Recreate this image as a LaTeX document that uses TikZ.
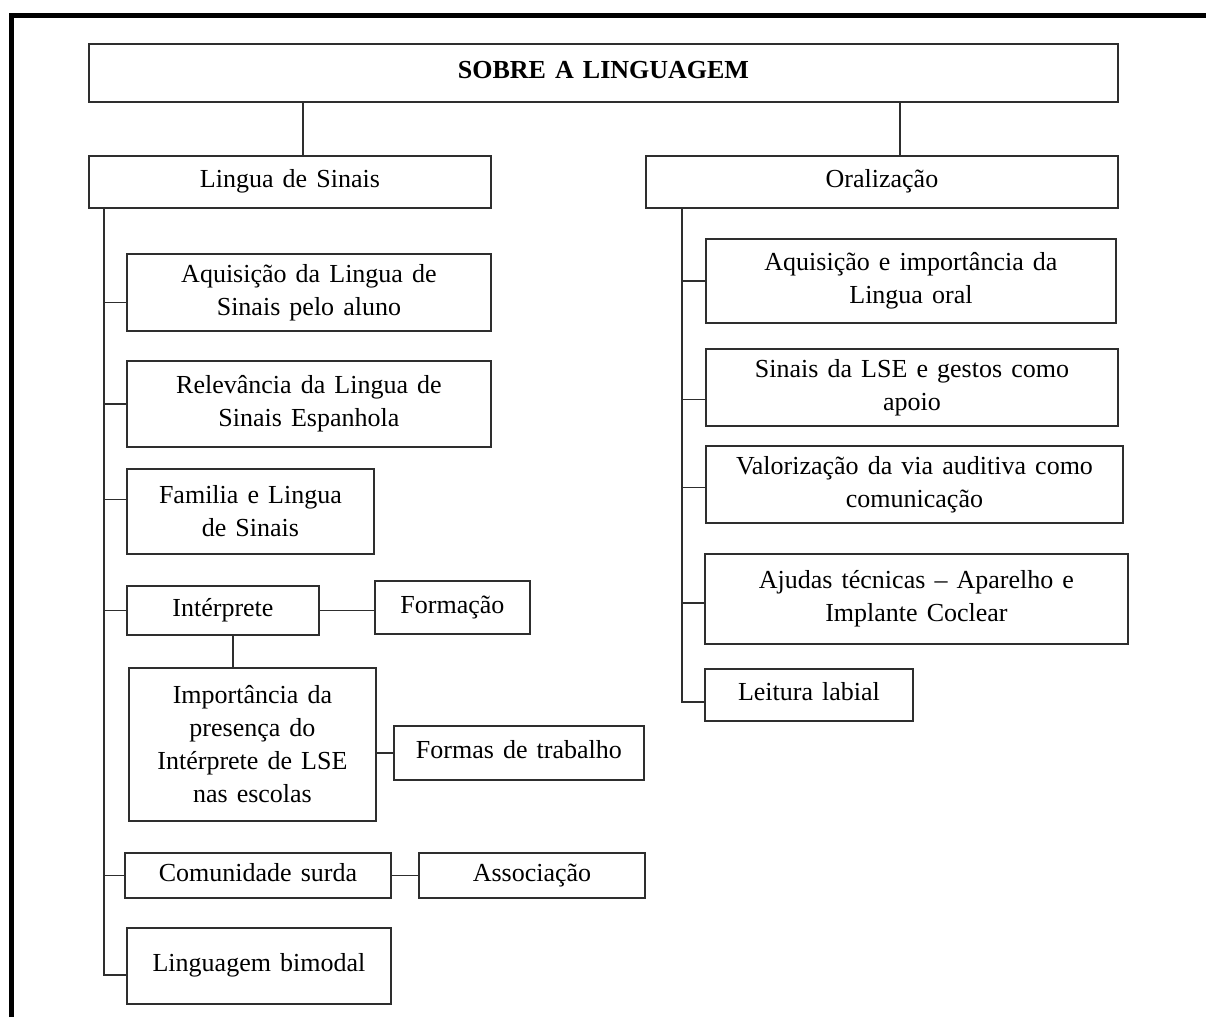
\documentclass[tikz,border=0pt]{standalone}
\usepackage{fontspec}
\setmainfont{Liberation Serif}[WordSpace=1.4]
\begin{document}
\begin{tikzpicture}[x=1pt,y=1pt,
  box/.style={draw=black!82, line width=1.9pt, inner sep=0pt, align=center,
    anchor=north west, font=\fontsize{26}{33}\selectfont},
  one/.style={text height=18pt, text depth=6pt},
  link/.style={draw=black!82, line width=1.9pt},
  frame/.style={draw=black, line width=5pt}]
\useasboundingbox (0,0) rectangle (1206,-1017);

% outer frame (top and left sides)
\draw[frame] (11,-1017) -- (11,-15) -- (1206,-15);

% title and the two main branches
\node[box, one, minimum width=1029pt, minimum height=58pt] (title) at (88,-43) {\textbf{SOBRE A LINGUAGEM}};
\node[box, one, minimum width=402pt, minimum height=52pt] (ls) at (88,-155) {Lingua de Sinais};
\node[box, one, minimum width=472pt, minimum height=52pt] (or) at (645,-155) {Oralização};

\draw[link] (ls.north -| 303,0) -- (title.south -| 303,0);
\draw[link] (or.north -| 900,0) -- (title.south -| 900,0);

% left column
\coordinate (lt) at (104,0);
\node[box, minimum width=364pt, minimum height=77pt] (a1) at (126,-253) {Aquisição da Lingua de\\Sinais pelo aluno};
\node[box, minimum width=364pt, minimum height=86pt] (a2) at (126,-360) {Relevância da Lingua de\\Sinais Espanhola};
\node[box, minimum width=247pt, minimum height=85pt] (a3) at (126,-468) {Familia e Lingua\\de Sinais};
\node[box, one, minimum width=192pt, minimum height=49pt] (a4) at (126,-585) {Intérprete};
\node[box, one, minimum width=155pt, minimum height=53pt] (a4b) at (374,-580) {Formação};
\node[box, minimum width=247pt, minimum height=153pt] (a5) at (128,-667) {Importância da\\presença do\\Intérprete de LSE\\nas escolas};
\node[box, one, minimum width=250pt, minimum height=54pt] (a5b) at (393,-725) {Formas de trabalho};
\node[box, one, minimum width=266pt, minimum height=45pt] (a6) at (124,-852) {Comunidade surda};
\node[box, one, minimum width=226pt, minimum height=45pt] (a6b) at (418,-852) {Associação};
\node[box, one, minimum width=264pt, minimum height=76pt] (a7) at (126,-927) {Linguagem bimodal};

\draw[link] (ls.south -| lt) |- ([yshift=-9pt]a7.west);
\draw[link] ([yshift=-10pt]a1.west) coordinate (c1) -- (c1 -| lt);
\draw[link] (a2.west) -- (a2.west -| lt);
\draw[link] ([yshift=12pt]a3.west) coordinate (c3) -- (c3 -| lt);
\draw[link] (a4.west) -- (a4.west -| lt);
\draw[link] (a6.west) -- (a6.west -| lt);
\draw[link] (a4.east) -- (a4.east -| a4b.west);
\draw[link] (a4.south -| 233,0) -- (a5.north -| 233,0);
\draw[link] (a5b.west -| a5.east) -- (a5b.west);
\draw[link] (a6.east) -- (a6.east -| a6b.west);

% right column
\coordinate (rt) at (682,0);
\node[box, minimum width=410pt, minimum height=84pt] (r1) at (705,-238) {Aquisição e importância da\\Lingua oral};
\node[box, minimum width=412pt, minimum height=77pt] (r2) at (705,-348) {Sinais da LSE e gestos como\\apoio};
\node[box, minimum width=417pt, minimum height=77pt] (r3) at (705,-445) {Valorização da via auditiva como\\comunicação};
\node[box, minimum width=423pt, minimum height=90pt] (r4) at (704,-553) {Ajudas técnicas – Aparelho e\\Implante Coclear};
\node[box, one, minimum width=208pt, minimum height=52pt] (r5) at (704,-668) {Leitura labial};

\draw[link] (or.south -| rt) |- ([yshift=-7pt]r5.west);
\draw[link] (r1.west) -- (r1.west -| rt);
\draw[link] ([yshift=-12pt]r2.west) coordinate (d2) -- (d2 -| rt);
\draw[link] ([yshift=-3pt]r3.west) coordinate (d3) -- (d3 -| rt);
\draw[link] ([yshift=-4pt]r4.west) coordinate (d4) -- (d4 -| rt);
\end{tikzpicture}
\end{document}
